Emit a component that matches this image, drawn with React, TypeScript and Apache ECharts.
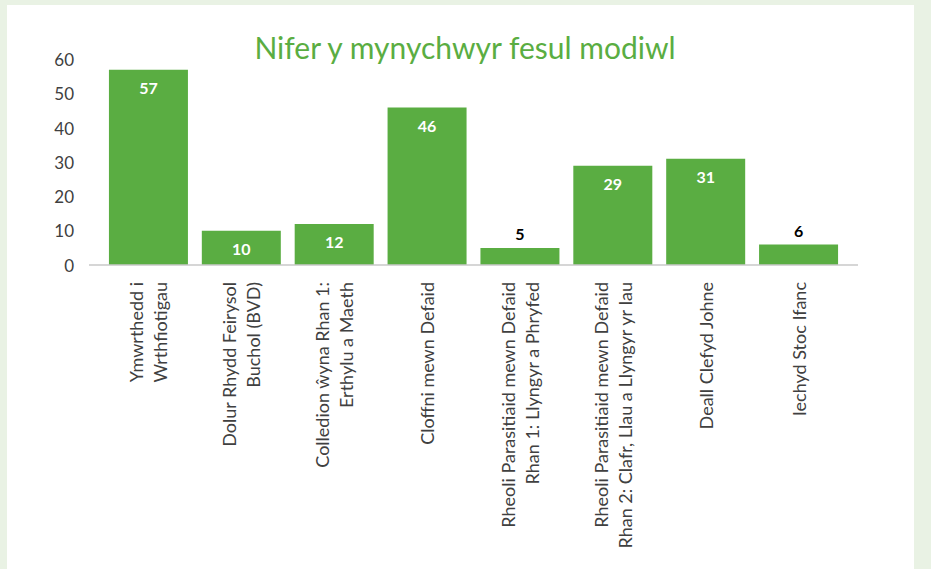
import React, { useEffect, useRef } from "react";
import * as echarts from "echarts";

const TITLE = "Nifer y mynychwyr fesul modiwl";
const categories = [
  "Ymwrthedd i\nWrthfiotigau",
  "Dolur Rhydd Feirysol\nBuchol (BVD)",
  "Colledion ŵyna Rhan 1:\nErthylu a Maeth",
  "Cloffni mewn Defaid",
  "Rheoli Parasitiaid mewn Defaid\nRhan 1: Llyngyr a Phryfed",
  "Rheoli Parasitiaid mewn Defaid\nRhan 2: Clafr, Llau a Llyngyr yr Iau",
  "Deall Clefyd Johne",
  "Iechyd Stoc Ifanc",
];
const values = [57, 10, 12, 46, 5, 29, 31, 6];
const yTicks = [0, 10, 20, 30, 40, 50, 60];

const GREEN = "#5aad42";
const FONT = "Lato, 'Noto Sans', sans-serif";

export default function App() {
  const ref = useRef<HTMLDivElement>(null);
  useEffect(() => {
    document.body.style.margin = "0";
    if (!ref.current) return;
    const chart = echarts.init(ref.current, undefined, { renderer: "svg" });
    const data = values.map((v) =>
      v >= 10
        ? { value: v, label: { position: "insideTop", color: "#ffffff", distance: 10 } }
        : { value: v, label: { position: "top", color: "#000000", distance: 6 } }
    );
    chart.setOption({
      animation: false,
      title: {
        text: TITLE,
        left: 460,
        textAlign: "center",
        top: 27,
        textStyle: { color: GREEN, fontFamily: FONT, fontSize: 30, fontWeight: "normal" },
      },
      grid: { left: 102, right: 86, top: 59.5, bottom: 304, containLabel: false },
      xAxis: {
        type: "category",
        data: categories,
        axisLine: { show: false },
        axisTick: { show: false },
        axisLabel: {
          rotate: 90,
          interval: 0,
          margin: 17,
          color: "#404040",
          fontFamily: FONT,
          fontSize: 18,
          lineHeight: 24,
        },
      },
      yAxis: {
        type: "value",
        min: yTicks[0],
        max: yTicks[yTicks.length - 1],
        interval: 10,
        splitLine: { show: false },
        axisLine: { show: false },
        axisTick: { show: false },
        axisLabel: { color: "#404040", fontFamily: FONT, fontSize: 17, margin: 28 },
      },
      graphic: [
        {
          type: "line",
          shape: { x1: 89, y1: 265, x2: 858, y2: 265 },
          style: { stroke: "#c8c8c8", lineWidth: 1.5 },
          z: 10,
        },
      ],
      series: [
        {
          type: "bar",
          data,
          barWidth: 79,
          itemStyle: { color: GREEN },
          label: {
            show: true,
            fontFamily: FONT,
            fontSize: 16,
            fontWeight: "bold",
          },
        },
      ],
    });
    return () => chart.dispose();
  }, []);
  return (
    <div style={{ position: "relative", width: 931, height: 569, background: "#e9f2e4", overflow: "hidden" }}>
      <div style={{ position: "absolute", left: 7, top: 5, width: 907, height: 564, background: "#ffffff" }} />
      <div ref={ref} style={{ position: "absolute", left: 0, top: 0, width: 931, height: 569 }} />
    </div>
  );
}
